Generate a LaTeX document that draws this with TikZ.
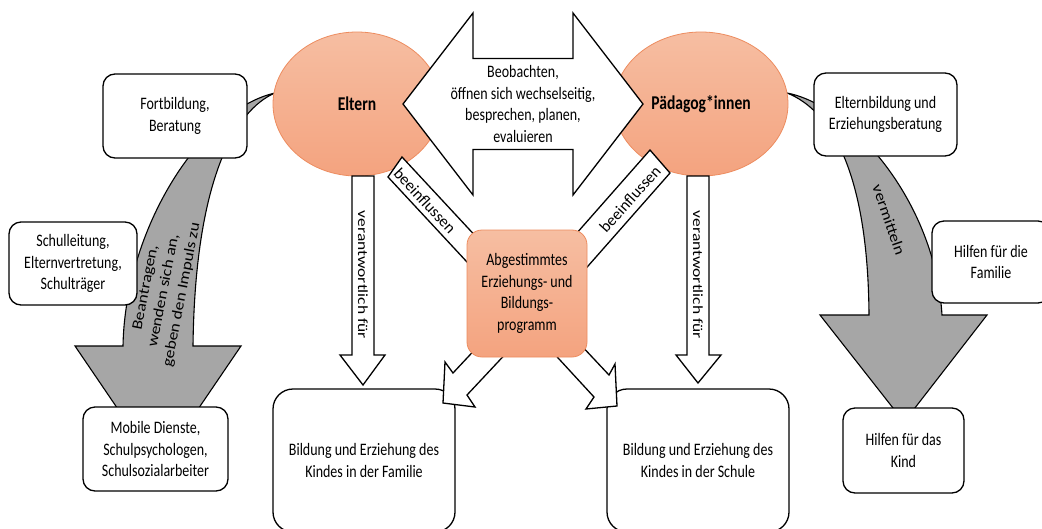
\documentclass[tikz,border=0pt]{standalone}
\usepackage{fontspec}
\setmainfont{Carlito}[FakeStretch=0.8]
\newfontfamily\uprightfont{Carlito}
\usetikzlibrary{shapes.geometric}
\definecolor{salmonTop}{RGB}{246,190,162}
\definecolor{salmonBot}{RGB}{244,163,127}
\definecolor{salmonEdge}{RGB}{237,140,95}
\definecolor{bandgray}{RGB}{166,166,166}

\begin{document}
\begin{tikzpicture}[x=1pt, y=-1pt,
  font=\fontsize{17.5}{21.7}\selectfont,
  every node/.style={inner sep=0pt, align=center},
  box/.style={draw=black, line width=1.3pt, fill=white, rounded corners=12pt},
  bigbox/.style={box, rounded corners=20pt},
  band/.style={draw=black, line width=1.1pt, fill=bandgray, line join=miter},
  blockarrow/.style={draw=black, line width=1.3pt, fill=white, line join=miter},
  person/.style={ellipse, draw=salmonEdge, line width=0.8pt,
    top color=salmonTop, bottom color=salmonBot,
    font=\fontsize{19.5}{23}\selectfont\bfseries},
  plan/.style={draw=salmonEdge, line width=0.8pt, top color=salmonTop,
    bottom color=salmonBot, rounded corners=15pt},
]
\useasboundingbox (0,0) rectangle (1042,528);
\fill[white] (0,0) rectangle (1042,528);
\clip (0,0) rectangle (1042,528);

% curved grey bands (left: towards the school services, right: help for families)
\path[band] (275,93) .. controls (200,110) and (125,230) .. (123,346)
  -- (75,346) -- (158,468) -- (241,346) -- (193,346)
  .. controls (195,180) and (235,110) .. (275,93) -- cycle;
\path[band] (787,93) .. controls (850,105) and (935,200) .. (942,315)
  -- (987,315) -- (904,422) -- (820,315) -- (869,315)
  .. controls (868,170) and (830,110) .. (787,93) -- cycle;

% the two partners
\node[person, minimum width=168, minimum height=144] (eltern) at (357,104) {Eltern};
\node[person, minimum width=174, minimum height=144] (paed) at (701,104) {Pädagog*innen};

% responsibility arrows
\path[blockarrow] (352,176) -- (374,176) -- (374,355) -- (385,355) -- (363,385)
  -- (340,355) -- (352,355) -- cycle;
\path[blockarrow] (687,176) -- (709,176) -- (709,355) -- (721,355) -- (698,383)
  -- (676,355) -- (687,355) -- cycle;
\node[rotate=-90] (verantwL) at (363,275) {\uprightfont\scalebox{1}[0.8]{verantwortlich für}};
\node[rotate=-90] (verantwR) at (698,275) {\uprightfont\scalebox{1}[0.8]{verantwortlich für}};

% influence bars
\path[blockarrow] (388,177) -- (402,157) -- (494,256) -- (480,276) -- cycle;
\path[blockarrow] (650,150) -- (670,173) -- (581,274) -- (561,251) -- cycle;
\node[rotate=-47] (einflussL) at (425,201) {\uprightfont\scalebox{0.92}{beeinflussen}};
\node[rotate=48] (einflussR) at (630,199) {\uprightfont\scalebox{0.92}{beeinflussen}};

% exchange double arrow
\path[blockarrow] (403,104) -- (473,13) -- (473,58.5) -- (573,58.5) -- (573,13)
  -- (643,104) -- (573,195) -- (573,149.5) -- (473,149.5) -- (473,195) -- cycle;
\node (dialog) at (523,104) {Beobachten,\\öffnen sich wechselseitig,\\besprechen, planen,\\evaluieren};

% education settings
\node[bigbox, minimum width=182, minimum height=143] (famBildung) at (364,460.5)
  {Bildung und Erziehung des\\Kindes in der Familie};
\node[bigbox, minimum width=182, minimum height=143] (schulBildung) at (698,460.5)
  {Bildung und Erziehung des\\Kindes in der Schule};

% arrows from the joint programme
\path[blockarrow] (482,342) -- (453,373) -- (445,362) -- (443,403) -- (475,407)
  -- (467,395) -- (512,347) -- cycle;
\path[blockarrow] (578,342) -- (609,375) -- (615,364) -- (617,406) -- (586,409)
  -- (594,397) -- (548,347) -- cycle;

\node[plan, minimum width=120, minimum height=127] (programm) at (527,293.5)
  {Abgestimmtes\\Erziehungs- und\\Bildungs-\\programm};

% support boxes
\node[box, minimum width=144, minimum height=84] (fortbildung) at (175,116) {Fortbildung,\\Beratung};
\node[box, minimum width=128, minimum height=83] (schulleitung) at (73,263.5) {Schulleitung,\\Elternvertretung,\\Schulträger};
\node[box, minimum width=145, minimum height=84] (mobil) at (155.5,449) {Mobile Dienste,\\Schulpsychologen,\\Schulsozialarbeiter};
\node[box, minimum width=143, minimum height=83] (elternbildung) at (885.5,114.5) {Elternbildung und\\Erziehungsberatung};
\node[box, minimum width=118, minimum height=82] (hilfeFamilie) at (991,262) {Hilfen für die\\Familie};
\node[box, minimum width=121, minimum height=85] (hilfeKind) at (903.5,450.5) {Hilfen für das\\Kind};

% band labels
\node[rotate=79] (antrag) at (164,291) {\uprightfont\scalebox{1}[0.85]{\begin{tabular}{@{}c@{}}Beantragen,\\wenden sich an,\\geben den Impuls zu\end{tabular}}};
\node[rotate=-71] (vermitteln) at (889,220) {\uprightfont\scalebox{1}[0.85]{vermitteln}};
\end{tikzpicture}
\end{document}
